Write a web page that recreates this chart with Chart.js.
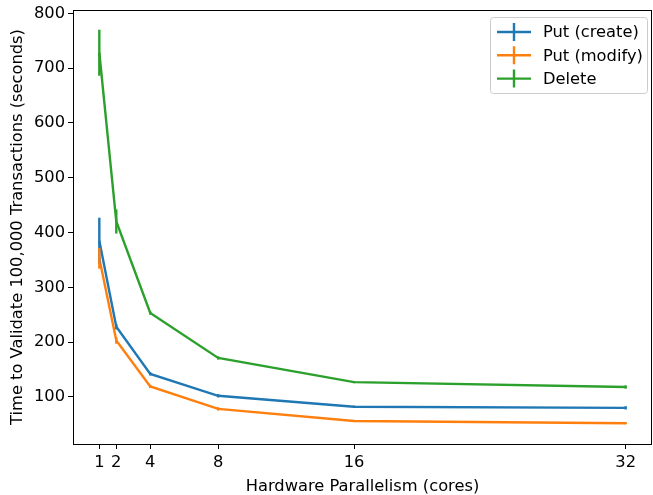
<!DOCTYPE html>
<html lang="en">
<head>
  <meta charset="UTF-8" />
  <title>Validation time vs cores</title>
  <script src="https://cdn.jsdelivr.net/npm/chart.js"></script>
  <style>
    html, body { margin: 0; padding: 0; background: #fff; }
    #wrap { width: 653px; height: 495px; }
  </style>
</head>
<body>
  <div id="wrap"><canvas id="grafico" width="653" height="495"></canvas></div>

  <script>
    // data
    const cores = [1, 2, 4, 8, 16, 32];
    const createMean = [385, 228, 142, 102, 82, 80];
    const createErr = [42, 5, 3, 3, 2, 3];
    const modifyMean = [353, 203, 119, 78, 56, 52];
    const modifyErr = [19, 6, 3, 3, 2, 2];
    const deleteMean = [728, 420, 253, 171, 127, 118];
    const deleteErr = [42, 22, 3, 3, 2, 3];
    const yTicks = [100, 200, 300, 400, 500, 600, 700, 800];

    const FONT = "'DejaVu Sans', sans-serif";
    const FS = 16.3;
    const LW = 2.4;

    function pts(ys) {
      return cores.map((c, i) => ({ x: c, y: ys[i] }));
    }

    const series = [
      { label: 'Put (create)', mean: createMean, err: createErr, color: '#1f77b4', order: 2 },
      { label: 'Put (modify)', mean: modifyMean, err: modifyErr, color: '#ff7f0e', order: 1 },
      { label: 'Delete', mean: deleteMean, err: deleteErr, color: '#2ca02c', order: 0 }
    ];

    // vertical error bars, drawn through the scales
    const errorBars = {
      id: 'errorBars',
      afterDatasetsDraw(chart) {
        const { ctx, scales: { x, y } } = chart;
        ctx.save();
        ctx.lineWidth = LW;
        series.forEach(s => {
          ctx.strokeStyle = s.color;
          cores.forEach((c, i) => {
            const px = x.getPixelForValue(c);
            ctx.beginPath();
            ctx.moveTo(px, y.getPixelForValue(s.mean[i] - s.err[i]));
            ctx.lineTo(px, y.getPixelForValue(s.mean[i] + s.err[i]));
            ctx.stroke();
          });
        });
        ctx.restore();
      }
    };

    // box around plot + legend in upper right (matplotlib look)
    const frameAndLegend = {
      id: 'frameAndLegend',
      afterDraw(chart) {
        const { ctx, chartArea: a } = chart;
        ctx.save();
        ctx.strokeStyle = '#000';
        ctx.lineWidth = 1;
        ctx.strokeRect(Math.round(a.left) + 0.5, Math.round(a.top) + 0.5,
          Math.round(a.right - a.left) - 1, Math.round(a.bottom - a.top));

        const w = 157, h = 76;
        const bx = a.right - 5 - w, by = a.top + 7;
        ctx.beginPath();
        ctx.roundRect(bx + 0.5, by + 0.5, w, h, 3);
        ctx.fillStyle = 'rgba(255,255,255,0.8)';
        ctx.fill();
        ctx.strokeStyle = '#cccccc';
        ctx.stroke();

        ctx.font = FS + 'px ' + FONT;
        ctx.textBaseline = 'middle';
        ctx.textAlign = 'left';
        series.forEach((s, i) => {
          const cy = by + 15 + i * 23.3;
          const x0 = bx + 7, x1 = bx + 41, xm = (x0 + x1) / 2;
          ctx.strokeStyle = s.color;
          ctx.lineWidth = LW;
          ctx.beginPath();
          ctx.moveTo(x0, cy); ctx.lineTo(x1, cy);
          ctx.moveTo(xm, cy - 9); ctx.lineTo(xm, cy + 9);
          ctx.stroke();
          ctx.fillStyle = '#000';
          ctx.fillText(s.label, bx + 53, cy + 1);
        });
        ctx.restore();
      }
    };

    const ctx = document.getElementById('grafico').getContext('2d');
    new Chart(ctx, {
      type: 'line',
      data: {
        datasets: series.map(s => ({
          label: s.label,
          data: pts(s.mean),
          borderColor: s.color,
          backgroundColor: s.color,
          borderWidth: LW,
          pointRadius: 0,
          tension: 0,
          fill: false,
          order: s.order
        }))
      },
      options: {
        responsive: false,
        animation: false,
        layout: { padding: { top: 10, right: 1, left: 0, bottom: 0 } },
        plugins: {
          legend: { display: false },
          tooltip: { enabled: false }
        },
        scales: {
          x: {
            type: 'linear',
            min: -0.55,
            max: 33.55,
            afterBuildTicks: sc => { sc.ticks = cores.map(v => ({ value: v })); },
            afterFit: sc => { sc.height = 51; sc.paddingLeft = 0; sc.paddingRight = 0; },
            grid: { drawOnChartArea: false, tickLength: 5, color: '#000' },
            border: { display: false },
            ticks: { color: '#000', font: { family: FONT, size: FS }, padding: 4, maxRotation: 0 },
            title: { display: true, text: 'Hardware Parallelism (cores)', color: '#000',
              font: { family: FONT, size: FS, lineHeight: 1.0 }, padding: { top: 2, bottom: 0 } }
          },
          y: {
            min: 14,
            max: 806,
            afterBuildTicks: sc => { sc.ticks = yTicks.map(v => ({ value: v })); },
            afterFit: sc => { sc.width = 73; sc.paddingTop = 0; sc.paddingBottom = 0; },
            grid: { drawOnChartArea: false, tickLength: 5, color: '#000' },
            border: { display: false },
            ticks: { color: '#000', font: { family: FONT, size: FS }, padding: 3 },
            title: { display: true, text: 'Time to Validate 100,000 Transactions (seconds)', color: '#000',
              font: { family: FONT, size: FS }, padding: { top: 8, bottom: 4 } }
          }
        }
      },
      plugins: [errorBars, frameAndLegend]
    });
  </script>
</body>
</html>
